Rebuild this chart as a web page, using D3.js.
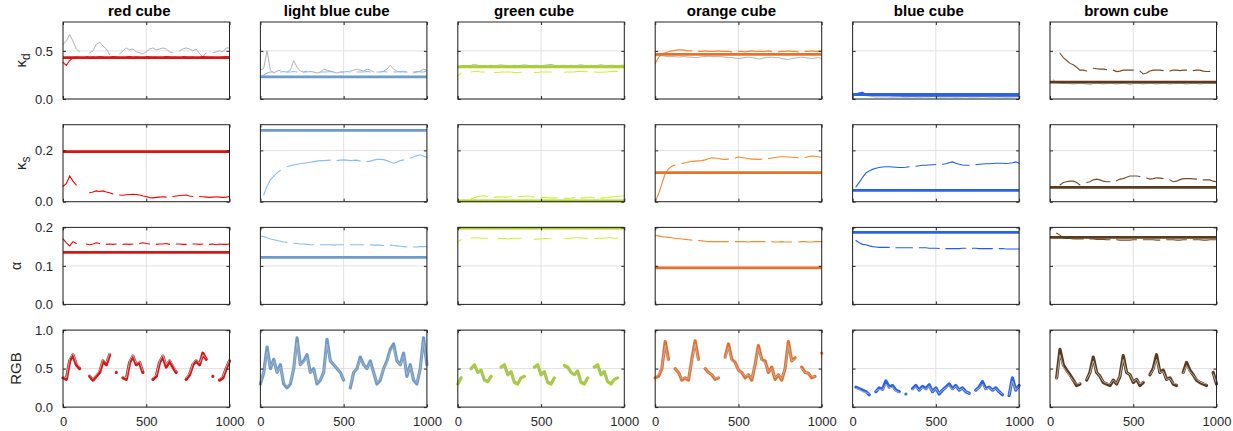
<!DOCTYPE html>
<html>
<head>
<meta charset="utf-8">
<script src="https://cdn.jsdelivr.net/npm/d3@7"></script>
<style>
  body { margin: 0; background: #fff; }
  text { font-family: "Liberation Sans", Arial, Helvetica, sans-serif; }
</style>
</head>
<body>
<svg id="chart" width="1233" height="431"></svg>
<script>
// frame index shared by every series (one sample every 20 frames)
const frames = [0,20,40,60,80,100,120,140,160,180,200,220,240,260,280,300,320,340,360,380,
  400,420,440,460,480,500,520,540,560,580,600,620,640,660,680,700,720,740,760,780,
  800,820,840,860,880,900,920,940,960,980,1000];
const xTicks = [0, 500, 1000];

const cubes = ["red cube", "light blue cube", "green cube", "orange cube", "blue cube", "brown cube"];
const thickColors = ["#dc1414", "#6b9bcc", "#a9cf2d", "#e8702a", "#2a62ea", "#5b3a1d"];
const thinColors  = ["#ff0000", "#86bff0", "#d2f032", "#f7892f", "#1e5cff", "#7a4a24"];
const refColor = "#b2b2b2";

// ground truth (thick horizontal lines)
const kdTrue    = [0.43, 0.23, 0.335, 0.464, 0.047, 0.175];
const ksTrue    = [0.195, 0.278, 0.003, 0.113, 0.044, 0.056];
const alphaTrue = [0.135, 0.122, 0.198, 0.095, 0.187, 0.174];

// ---- red cube
const kdEstRed = [0.38,0.35,0.40,0.43,0.435,0.43,null,0.44,0.43,0.435,
  0.43,0.44,0.435,null,0.43,0.44,0.435,0.43,null,0.435,
  0.44,0.43,0.435,0.43,null,0.44,0.435,0.43,0.435,null,
  0.43,0.44,0.435,0.43,0.435,null,0.44,0.435,0.43,0.435,
  null,0.43,0.44,0.435,0.43,0.435,null,0.43,0.435,0.44,0.435];
const kdRefRed = [0.57,0.6,0.67,0.6,0.52,0.49,null,null,0.48,0.5,
  0.57,0.59,0.55,0.52,0.46,null,null,0.47,0.5,0.53,
  0.51,0.52,0.49,0.48,0.47,0.49,0.52,0.53,0.51,0.52,
  0.53,0.52,0.49,0.48,null,0.5,0.52,0.53,0.52,0.5,
  0.52,0.47,0.44,0.48,null,0.48,0.49,0.5,0.49,0.53,0.53];
const ksEstRed = [0.06,0.07,0.1,0.08,0.065,null,null,null,0.035,0.038,
  0.042,0.04,0.042,0.038,0.035,0.03,null,0.026,0.025,0.027,
  0.028,0.029,0.028,0.026,0.022,0.02,0.016,0.015,0.017,0.018,
  0.019,0.018,null,0.02,0.022,0.024,0.025,0.026,0.022,0.02,
  null,0.02,0.019,0.018,0.017,0.018,0.019,0.018,0.017,0.018,0.02];
const alphaEstRed = [0.17,0.16,0.152,0.163,0.158,null,null,0.157,0.155,0.157,
  0.16,0.158,null,0.156,0.157,0.156,0.157,null,0.156,0.157,
  0.156,0.157,null,0.158,0.16,0.158,0.157,null,0.156,0.157,
  0.157,0.158,0.156,null,0.157,0.157,0.156,0.156,null,0.157,
  0.157,0.156,0.157,null,0.156,0.157,0.155,0.157,0.156,0.156,0.157];
const rgbEstRed = [0.38,0.36,0.6,0.68,0.55,0.5,null,null,0.4,0.35,
  0.4,0.45,0.6,0.55,0.68,null,0.45,null,0.38,0.36,
  0.58,0.66,0.55,0.58,0.45,null,null,0.36,0.4,0.58,
  0.66,0.52,0.6,0.52,0.45,null,null,0.36,0.42,0.55,
  0.6,0.55,0.7,0.62,null,0.4,null,0.35,0.38,0.5,0.6];
const rgbRefRed = [0.4,0.38,0.63,0.7,0.58,0.52,null,null,0.42,0.37,
  0.42,0.48,0.62,0.58,0.7,null,0.47,null,0.4,0.38,
  0.6,0.68,0.57,0.6,0.47,null,null,0.38,0.42,0.6,
  0.68,0.55,0.62,0.55,0.47,null,null,0.38,0.44,0.57,
  0.62,0.57,0.68,0.64,null,0.42,null,0.37,0.4,0.52,0.62];

// ---- light blue cube
const kdEstLightBlue = [0.23,0.25,0.27,0.28,0.28,null,0.28,0.285,0.28,0.28,
  0.285,0.28,null,0.28,0.28,0.285,0.28,null,0.28,0.28,
  0.28,0.285,0.28,null,0.28,0.28,0.285,0.28,null,0.28,
  0.28,0.28,0.285,0.28,null,0.28,0.28,0.285,0.28,null,
  0.28,0.28,0.285,0.28,0.28,null,0.28,0.285,0.28,0.28,0.29];
const kdRefLightBlue = [0.3,0.32,0.5,0.3,0.27,0.29,0.3,null,0.28,0.3,
  0.4,0.33,0.29,0.28,0.29,null,0.28,0.27,0.28,0.31,
  0.3,0.29,0.28,0.27,0.28,0.28,null,0.29,0.3,0.31,
  0.3,0.29,0.31,0.3,0.28,null,0.28,0.29,0.31,0.35,
  0.31,0.29,0.28,0.29,0.28,null,0.27,0.28,0.29,0.31,0.3];
const ksEstLightBlue = [null,0.026,0.06,0.085,0.1,0.112,0.122,null,0.136,0.14,
  0.143,0.146,0.148,0.15,0.152,0.154,0.156,0.158,0.16,0.16,
  0.161,0.162,null,0.16,0.162,0.163,0.162,0.16,0.161,0.162,
  0.158,null,0.156,0.158,0.162,0.165,0.165,0.164,0.16,0.155,
  0.15,0.155,0.16,0.163,null,0.17,0.174,0.18,0.183,0.178,0.172];
const alphaEstLightBlue = [0.177,0.176,0.173,0.17,0.168,0.166,0.164,0.162,0.161,null,
  0.159,0.158,0.157,0.157,0.156,0.155,0.155,null,0.155,0.155,
  0.155,0.155,0.154,0.155,0.155,0.155,null,0.155,0.155,0.155,
  0.155,0.155,null,0.155,0.154,0.154,0.154,0.153,null,0.154,
  0.153,0.152,0.151,0.15,0.149,null,0.149,0.149,0.15,0.15,0.15];
const rgbEstLightBlue = [0.3,0.45,0.78,0.5,0.62,0.45,0.55,0.3,0.25,0.3,
  0.5,0.9,0.55,0.6,0.68,0.45,0.5,0.3,0.35,0.45,
  0.88,0.6,0.55,0.5,0.45,0.35,null,0.25,0.45,0.5,
  0.65,0.55,0.5,0.6,0.45,0.3,0.35,0.5,0.6,0.75,
  0.82,0.6,0.55,0.7,0.4,0.55,0.35,0.3,0.5,0.9,0.55];
const rgbRefLightBlue = [0.32,0.45,0.72,0.52,0.6,0.45,0.52,0.32,0.27,0.32,
  0.5,0.84,0.55,0.58,0.65,0.45,0.48,0.32,0.36,0.45,
  0.82,0.6,0.55,0.5,0.45,0.36,null,0.27,0.45,0.5,
  0.62,0.55,0.5,0.58,0.45,0.32,0.36,0.5,0.58,0.72,
  0.78,0.6,0.55,0.66,0.42,0.52,0.36,0.32,0.5,0.85,0.55];

// ---- green cube
const kdEstGreen = [0.24,0.27,null,null,0.28,0.285,0.285,0.28,0.28,null,
  null,0.275,0.275,0.28,0.28,0.28,0.28,0.275,0.275,0.278,
  null,null,null,0.275,0.275,0.28,0.28,0.28,0.28,null,
  null,null,0.278,0.28,0.28,0.282,0.285,0.285,0.285,0.283,
  null,0.28,0.278,0.278,0.28,0.282,0.285,0.287,0.285,null,null];
const kdRefGreen = [0.33,0.34,0.35,0.345,0.35,0.36,0.35,0.345,0.35,0.34,
  0.35,0.345,0.35,0.355,0.35,0.345,0.34,0.35,0.345,0.35,
  0.355,0.35,0.345,0.35,0.35,0.345,0.35,0.355,0.36,0.35,
  0.345,0.35,0.35,0.345,0.35,0.345,0.35,0.355,0.35,0.345,
  0.35,0.345,0.35,0.355,0.35,0.345,0.35,0.35,0.345,0.35,0.35];
const ksEstGreen = [0,0.003,0.006,null,0.01,0.015,0.02,0.022,0.023,0.02,
  null,0.017,0.018,0.019,0.018,0.018,0.02,null,0.02,0.02,
  0.021,0.022,0.02,0.018,null,0.017,0.016,0.016,0.015,0.014,
  0.015,null,0.014,0.013,0.014,0.016,null,0.014,0.015,0.016,
  0.018,0.015,null,0.014,0.015,0.016,0.018,0.019,0.02,0.022,0.022];
const alphaEstGreen = [0.162,0.168,null,null,0.172,0.173,0.173,0.172,0.172,0.172,
  null,null,0.172,0.171,0.171,0.17,0.171,0.172,0.172,0.172,
  null,null,null,0.169,0.17,0.17,0.171,0.171,0.172,null,
  null,null,0.171,0.172,0.172,0.173,0.173,0.173,0.172,0.172,
  null,0.171,0.172,0.172,0.172,0.173,0.173,0.172,0.172,null,null];
const rgbEstGreen = [0.3,0.38,null,null,0.5,0.55,0.45,0.48,0.35,0.33,
  0.4,null,null,0.52,0.55,0.42,0.46,0.32,0.3,0.38,
  0.4,null,null,0.52,0.55,0.42,0.46,0.32,0.3,0.38,
  null,null,0.54,0.52,0.45,0.42,0.47,0.32,0.3,0.38,
  null,0.52,0.55,0.42,0.46,0.33,0.3,0.36,0.38,null,null];
const rgbRefGreen = [0.32,0.4,null,null,0.48,0.53,0.45,0.46,0.36,0.35,
  0.4,null,null,0.5,0.53,0.43,0.45,0.34,0.32,0.38,
  0.4,null,null,0.5,0.53,0.43,0.45,0.34,0.32,0.38,
  null,null,0.52,0.5,0.45,0.43,0.45,0.34,0.32,0.38,
  null,0.5,0.53,0.43,0.45,0.34,0.32,0.36,0.38,null,null];

// ---- orange cube
const kdEstOrange = [0.37,0.43,0.47,0.48,0.49,0.5,0.505,0.51,0.51,0.505,
  0.5,0.5,null,0.495,0.495,0.5,0.495,0.495,0.495,0.5,
  0.495,0.495,0.495,0.49,null,0.495,0.495,0.49,0.495,0.5,
  0.495,0.495,0.495,0.495,0.5,0.495,null,0.49,0.495,0.495,
  0.5,0.495,0.495,0.49,null,0.495,0.495,0.5,0.495,0.495,0.5];
const kdRefOrange = [0.45,0.45,0.45,0.445,0.44,0.44,0.44,0.435,0.44,0.44,
  0.435,0.435,0.43,0.43,0.44,0.44,0.445,0.44,0.44,0.44,
  0.44,0.435,0.43,0.43,0.425,0.42,0.425,0.43,0.435,0.43,
  0.425,0.415,0.42,0.43,0.43,0.435,0.43,0.43,0.42,0.415,
  0.41,0.42,0.425,0.43,0.435,0.43,0.425,0.42,0.425,0.43,0.42];
const ksEstOrange = [0,0.03,0.07,0.11,0.128,0.138,0.143,null,0.149,0.152,
  0.155,0.157,0.158,0.159,0.16,0.163,0.167,0.171,0.17,0.168,
  0.166,0.165,0.166,null,0.17,0.174,0.172,0.17,0.168,0.166,
  0.166,0.165,0.166,null,0.168,0.17,0.172,0.174,0.175,0.175,
  0.174,0.173,0.172,0.171,null,0.172,0.175,0.178,0.177,0.175,0.172];
const alphaEstOrange = [0.179,0.178,0.176,0.175,0.174,0.173,0.172,0.171,0.17,0.169,
  0.168,0.167,null,0.166,0.165,0.164,0.163,0.163,0.163,0.163,
  0.163,0.163,0.163,null,0.163,0.163,0.163,0.163,0.162,0.163,
  0.163,0.163,0.163,0.163,null,0.163,0.162,0.162,0.163,0.162,
  0.162,0.162,null,0.162,0.163,0.163,0.162,0.162,0.163,0.163,0.163];
const rgbEstOrange = [0.38,0.4,0.5,0.85,0.62,null,0.5,0.45,0.35,0.38,
  0.35,0.62,0.86,0.62,null,0.5,0.45,0.42,0.36,0.38,
  null,0.65,0.82,0.62,0.58,0.48,0.45,0.38,0.42,0.35,
  0.55,0.8,0.62,0.6,0.45,0.52,0.36,0.42,0.35,0.5,
  0.85,0.6,0.64,null,0.52,0.45,0.44,0.38,0.4,null,0.7];
const rgbRefOrange = [0.4,0.42,0.52,0.8,0.6,null,0.5,0.45,0.37,0.38,
  0.37,0.6,0.82,0.6,null,0.5,0.45,0.42,0.38,0.38,
  null,0.63,0.78,0.6,0.57,0.48,0.45,0.4,0.42,0.37,
  0.55,0.76,0.6,0.58,0.46,0.5,0.38,0.42,0.37,0.5,
  0.8,0.6,0.62,null,0.5,0.45,0.44,0.4,0.4,null,0.68];

// ---- blue cube
const kdEstBlue = [0.045,0.05,0.065,0.07,0.05,0.04,0.035,0.035,0.033,0.034,
  0.035,0.033,0.032,0.033,0.032,0.03,0.031,0.03,0.03,0.031,
  0.03,0.03,0.031,0.03,0.03,0.029,0.03,0.03,0.031,0.03,
  0.032,0.03,0.03,0.029,0.028,0.03,0.03,0.031,0.03,0.029,
  0.028,0.03,0.03,0.029,0.028,0.028,0.029,0.03,0.029,0.028,0.028];
const kdRefBlue = [0.04,0.045,0.05,0.045,0.035,0.03,0.025,0.02,0.022,0.02,
  0.022,0.02,0.018,0.02,0.022,0.02,0.018,0.02,0.022,0.02,
  0.018,0.02,0.022,0.02,0.025,0.022,0.02,0.018,0.02,0.022,
  0.02,0.018,0.02,0.022,0.025,0.02,0.018,0.02,0.022,0.025,
  0.022,0.02,0.018,0.02,0.022,0.02,0.018,0.02,0.02,0.022,0.02];
const ksEstBlue = [null,0.058,0.075,0.095,0.112,0.12,0.126,0.13,0.133,0.135,
  0.136,0.136,0.135,0.134,0.133,0.133,0.134,0.136,null,0.138,
  0.14,0.142,0.142,0.143,0.144,0.145,null,0.146,0.148,0.152,
  0.155,0.15,0.146,0.143,0.142,0.142,null,0.144,0.146,0.147,
  0.148,0.148,0.149,0.15,0.15,0.15,0.149,0.15,0.152,0.155,0.15];
const alphaEstBlue = [null,0.166,0.16,0.156,0.155,0.152,0.15,0.149,0.148,0.148,
  0.148,0.148,null,0.147,0.147,0.147,0.147,0.147,0.147,null,
  0.147,0.147,0.147,0.146,0.146,0.146,0.145,null,0.145,0.145,
  0.145,0.145,0.145,0.146,0.146,null,0.146,0.146,0.145,0.145,
  0.145,0.145,0.145,null,0.145,0.145,0.144,0.144,0.144,0.144,0.144];
const rgbEstBlue = [null,0.26,0.24,0.22,0.2,0.16,null,0.2,0.25,0.23,
  0.34,0.26,0.28,0.22,0.2,null,0.17,null,0.24,0.28,
  0.22,0.27,0.24,0.29,0.2,0.25,0.17,0.22,0.26,0.3,
  0.24,0.28,0.22,0.25,0.2,0.18,null,0.22,0.26,0.33,
  0.24,0.26,0.22,0.25,0.2,0.16,null,0.15,0.38,0.22,0.28];
const rgbRefBlue = [null,0.24,0.23,0.2,0.19,0.17,null,0.21,0.23,0.22,
  0.3,0.25,0.26,0.21,0.19,null,0.18,null,0.23,0.26,
  0.22,0.25,0.23,0.27,0.2,0.24,0.18,0.22,0.25,0.28,
  0.23,0.27,0.22,0.24,0.2,0.18,null,0.22,0.25,0.3,
  0.23,0.25,0.22,0.24,0.2,0.17,null,0.16,0.34,0.22,0.27];

// ---- brown cube
const kdEstBrown = [null,null,null,0.475,0.43,0.4,0.37,0.355,0.33,0.3,
  0.3,0.29,null,0.32,0.315,0.31,0.31,0.305,null,0.3,
  0.285,0.29,0.3,0.3,0.3,0.3,null,0.29,0.26,0.27,
  0.29,0.3,0.3,0.3,0.295,null,0.29,0.3,0.3,0.295,
  0.3,0.3,null,0.295,0.3,0.3,0.29,0.285,0.285,null,0.285];
const kdRefBrown = [null,0.2,0.17,0.165,0.16,0.165,0.16,0.155,0.16,0.165,
  0.16,0.155,0.15,0.16,0.165,0.16,0.155,0.16,0.165,0.16,
  0.155,0.16,0.165,0.16,0.15,0.16,0.165,0.16,0.155,0.16,
  0.165,0.16,0.155,0.16,0.165,0.16,0.155,0.16,0.16,0.165,
  0.16,0.155,0.16,0.165,0.16,0.155,0.16,0.165,0.16,0.16,0.16];
const ksEstBrown = [null,null,null,0.065,0.075,0.078,0.08,0.08,0.075,0.065,
  null,0.075,0.078,0.085,0.088,0.085,0.08,0.078,0.078,null,
  0.082,0.088,0.09,0.095,0.1,0.1,0.1,0.098,null,0.092,
  0.088,0.09,0.093,0.092,0.09,null,0.085,0.078,0.08,0.086,
  0.09,0.09,0.09,0.089,0.088,null,0.085,0.085,0.085,0.08,0.078];
const alphaEstBrown = [null,null,0.185,0.18,0.172,0.171,0.171,0.17,0.17,0.17,
  0.17,null,0.17,0.17,0.169,0.169,0.169,0.168,0.168,null,
  0.168,0.167,0.167,0.167,0.167,0.168,0.168,null,0.168,0.168,
  0.168,0.168,0.167,0.167,null,0.168,0.168,0.168,0.167,0.167,
  0.168,0.168,null,0.168,0.168,0.168,0.167,0.167,0.168,0.168,0.168];
const rgbEstBrown = [null,null,0.38,0.75,0.55,0.48,0.42,0.35,0.28,0.3,
  null,0.35,0.45,0.65,0.45,0.4,0.32,0.3,0.28,0.35,
  0.3,0.4,0.67,0.45,0.42,0.32,0.36,0.28,0.32,null,
  0.42,0.5,0.68,0.45,0.48,0.36,0.38,0.3,0.28,null,
  0.45,0.58,0.48,0.42,0.35,0.32,0.3,0.28,null,0.45,0.3];
const rgbRefBrown = [null,null,0.36,0.68,0.52,0.46,0.4,0.34,0.3,0.31,
  null,0.36,0.44,0.6,0.45,0.4,0.33,0.31,0.3,0.35,
  0.31,0.4,0.62,0.45,0.42,0.33,0.36,0.3,0.33,null,
  0.42,0.48,0.62,0.45,0.46,0.36,0.37,0.31,0.3,null,
  0.44,0.54,0.46,0.42,0.36,0.33,0.31,0.3,null,0.43,0.31];

const kdEst    = [kdEstRed, kdEstLightBlue, kdEstGreen, kdEstOrange, kdEstBlue, kdEstBrown];
const kdRef    = [kdRefRed, kdRefLightBlue, kdRefGreen, kdRefOrange, kdRefBlue, kdRefBrown];
const ksEst    = [ksEstRed, ksEstLightBlue, ksEstGreen, ksEstOrange, ksEstBlue, ksEstBrown];
const alphaEst = [alphaEstRed, alphaEstLightBlue, alphaEstGreen, alphaEstOrange, alphaEstBlue, alphaEstBrown];
const rgbEst   = [rgbEstRed, rgbEstLightBlue, rgbEstGreen, rgbEstOrange, rgbEstBlue, rgbEstBrown];
const rgbRef   = [rgbRefRed, rgbRefLightBlue, rgbRefGreen, rgbRefOrange, rgbRefBlue, rgbRefBrown];

const rows = [
  { est: kdEst, ref: kdRef, truth: kdTrue, domain: [0, 0.8], ticks: [0, 0.5], label: ["κ", "d"] },
  { est: ksEst, ref: null, truth: ksTrue, domain: [0, 0.3], ticks: [0, 0.2], label: ["κ", "s"] },
  { est: alphaEst, ref: null, truth: alphaTrue, domain: [0, 0.2], ticks: [0, 0.1, 0.2], label: ["α"] },
  { est: rgbEst, ref: rgbRef, truth: null, domain: [0, 1], ticks: [0, 0.5, 1], label: ["RGB"] }
];

// layout
const left0 = 63, colStep = 197.4, panelW = 166.5;
const top0 = 22, rowStep = 102.7, panelH = 77;
const axisColor = "#262626", gridColor = "#e1e1e1";

const svg = d3.select("#chart");

const x = d3.scaleLinear().domain([0, 1000]).range([0, panelW]);

function styleAxis(a) {
  a.select(".domain").remove();
  a.selectAll(".tick line").attr("stroke", axisColor);
  a.selectAll(".tick text").attr("fill", axisColor).attr("font-size", 13)
    .attr("font-family", "Liberation Sans, Arial, sans-serif");
}

rows.forEach((row, r) => {
  const y = d3.scaleLinear().domain(row.domain).range([panelH, 0]);
  const line = d3.line()
    .defined(d => d[1] != null)
    .x(d => x(d[0]))
    .y(d => y(d[1]));
  const pts = vals => frames.map((f, i) => [f, vals[i]]);

  cubes.forEach((name, c) => {
    const g = svg.append("g")
      .attr("transform", `translate(${left0 + c * colStep},${top0 + r * rowStep})`);

    // grid
    g.append("g").selectAll("line").data(xTicks).join("line")
      .attr("x1", d => x(d)).attr("x2", d => x(d))
      .attr("y1", 0).attr("y2", panelH)
      .attr("stroke", gridColor);
    g.append("g").selectAll("line").data(row.ticks).join("line")
      .attr("x1", 0).attr("x2", panelW)
      .attr("y1", d => y(d)).attr("y2", d => y(d))
      .attr("stroke", gridColor);

    if (r < 3) {
      if (row.ref) {
        g.append("path").datum(pts(row.ref[c])).attr("d", line)
          .attr("fill", "none").attr("stroke", refColor).attr("stroke-width", 1)
          .attr("stroke-linecap", "round");
      }
      g.append("path").datum(pts(row.est[c])).attr("d", line)
        .attr("fill", "none").attr("stroke", thinColors[c]).attr("stroke-width", 1.1)
        .attr("stroke-linecap", "round");
      g.append("line")
        .attr("x1", x(0)).attr("x2", x(1000))
        .attr("y1", y(row.truth[c])).attr("y2", y(row.truth[c]))
        .attr("stroke", thickColors[c]).attr("stroke-width", 2.8);
    } else {
      g.append("path").datum(pts(row.est[c])).attr("d", line)
        .attr("fill", "none").attr("stroke", thickColors[c]).attr("stroke-width", 3.2)
        .attr("stroke-linecap", "round").attr("stroke-linejoin", "round");
      g.append("path").datum(pts(row.ref[c])).attr("d", line)
        .attr("fill", "none").attr("stroke", refColor).attr("stroke-width", 1)
        .attr("stroke-linecap", "round");
    }

    // axes, ticks pointing inwards on all four sides
    g.append("g")
      .call(d3.axisLeft(y).tickValues(row.ticks).tickSizeInner(-3).tickSizeOuter(0)
        .tickPadding(10).tickFormat(c === 0 ? d3.format(".1f") : ""))
      .call(styleAxis);
    g.append("g").attr("transform", `translate(${panelW},0)`)
      .call(d3.axisRight(y).tickValues(row.ticks).tickSizeInner(-3).tickSizeOuter(0).tickFormat(""))
      .call(styleAxis);
    g.append("g").attr("transform", `translate(0,${panelH})`)
      .call(d3.axisBottom(x).tickValues(xTicks).tickSizeInner(-3).tickSizeOuter(0)
        .tickPadding(10).tickFormat(r === 3 ? d3.format("d") : ""))
      .call(styleAxis);
    g.append("g")
      .call(d3.axisTop(x).tickValues(xTicks).tickSizeInner(-3).tickSizeOuter(0).tickFormat(""))
      .call(styleAxis);

    g.append("rect")
      .attr("width", panelW).attr("height", panelH)
      .attr("fill", "none").attr("stroke", axisColor).attr("stroke-width", 1);

    if (r === 0) {
      g.append("text")
        .attr("x", panelW / 2 - 7).attr("y", -6.5)
        .attr("text-anchor", "middle")
        .attr("font-size", 15).attr("font-weight", "bold").attr("fill", "#000")
        .text(name);
    }
  });

  // y label
  const cy = top0 + r * rowStep + panelH / 2;
  const lx = r === 3 ? 21 : (r === 2 ? 21 : 26);
  const t = svg.append("text")
    .attr("transform", `translate(${lx},${cy}) rotate(-90)`)
    .attr("text-anchor", "middle")
    .attr("fill", axisColor)
    .attr("font-size", r === 2 ? 14 : 15);
  t.append("tspan").text(row.label[0]);
  if (row.label[1]) {
    t.append("tspan").attr("font-size", 12).attr("dy", 4).text(row.label[1]);
  }
});
</script>
</body>
</html>
